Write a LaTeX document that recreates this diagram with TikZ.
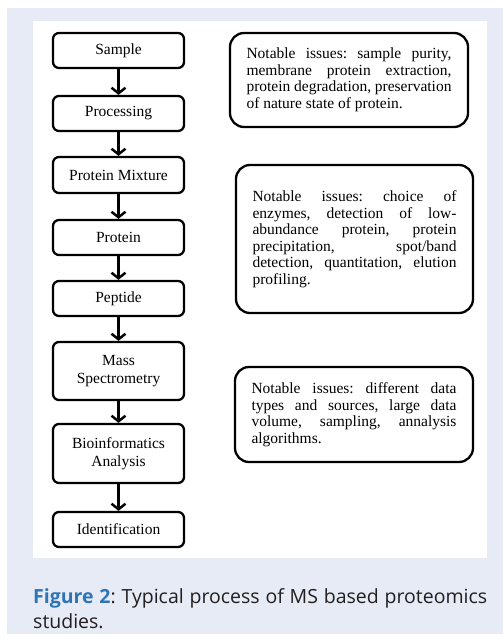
\documentclass[tikz,border=0pt]{standalone}
\usepackage{fontspec}
\setmainfont{Liberation Serif}
\newfontfamily\capfont{Open Sans}
\usetikzlibrary{arrows.meta}
\definecolor{panelblue}{HTML}{E6EBF5}
\definecolor{figblue}{HTML}{2F74B5}
\definecolor{captext}{HTML}{231F20}
\hyphenpenalty=10000
\frenchspacing
\tikzset{
  stepbox/.style={draw, line width=2.3bp, rounded corners=6bp, minimum width=131bp, align=center,
    font=\fontsize{15.5bp}{18bp}\selectfont, inner sep=0pt},
  notebox/.style={draw, line width=2.3bp, rounded corners=14bp, align=justify, inner sep=0pt,
    font=\fontsize{15.5bp}{16.5bp}\selectfont},
  flow/.style={line width=2.4bp, -{Straight Barb[length=5.5bp,width=14bp,line width=2.5bp]}}
}
\begin{document}
\frenchspacing
\begin{tikzpicture}[x=1bp,y=-1bp]
\useasboundingbox (0,0) rectangle (503,642);
\fill[white] (0,0) rectangle (503,642);
\fill[panelblue] (7,8) rectangle (503,634);
\fill[white] (33,21) rectangle (487,558);
% left flow
\node[stepbox, minimum height=35bp] (sample) at (118.5,50.5) {Sample};
\node[stepbox, minimum height=35bp] (proc) at (118.5,113.5) {Processing};
\node[stepbox, minimum height=36bp] (mix) at (118.5,175) {Protein Mixture};
\node[stepbox, minimum height=35bp] (prot) at (118.5,237.5) {Protein};
\node[stepbox, minimum height=35bp] (pep) at (118.5,298.5) {Peptide};
\node[stepbox, minimum height=58bp] (ms) at (118.5,371) {Mass\\Spectrometry};
\node[stepbox, minimum height=59bp] (bio) at (118.5,453.5) {Bioinformatics\\Analysis};
\node[stepbox, minimum height=35bp] (ident) at (118.5,529.5) {Identification};
\draw[flow] (sample) -- (proc);
\draw[flow] (proc) -- (mix);
\draw[flow] (mix) -- (prot);
\draw[flow] (prot) -- (pep);
\draw[flow] (pep) -- (ms);
\draw[flow] (ms) -- (bio);
\draw[flow] (bio) -- (ident);
% notes
\node[notebox, minimum width=238bp, minimum height=94bp, text width=205bp] (n1) at (349,80)
  {Notable issues: sample purity, membrane protein extraction, protein degradation, preservation of nature state of protein.};
\node[notebox, minimum width=237bp, minimum height=148bp, text width=204bp] (n2) at (354.5,239)
  {Notable issues: choice of enzymes, detection of low-abundance protein, protein precipitation, spot/band detection, quantitation, elution profiling.};
\node[notebox, minimum width=238bp, minimum height=95bp, text width=205bp] (n3) at (354,414.5)
  {Notable issues: different data types and sources, large data volume, sampling, annalysis algorithms.};
% caption
\node[anchor=base west, inner sep=0pt, text width=454bp, align=justify, text=captext,
  font=\capfont\fontsize{19.5bp}{25bp}\selectfont] (cap) at (33,603)
  {\textcolor{figblue}{\bfseries Figure 2}: Typical process of MS based proteomics studies.};
\end{tikzpicture}
\end{document}
